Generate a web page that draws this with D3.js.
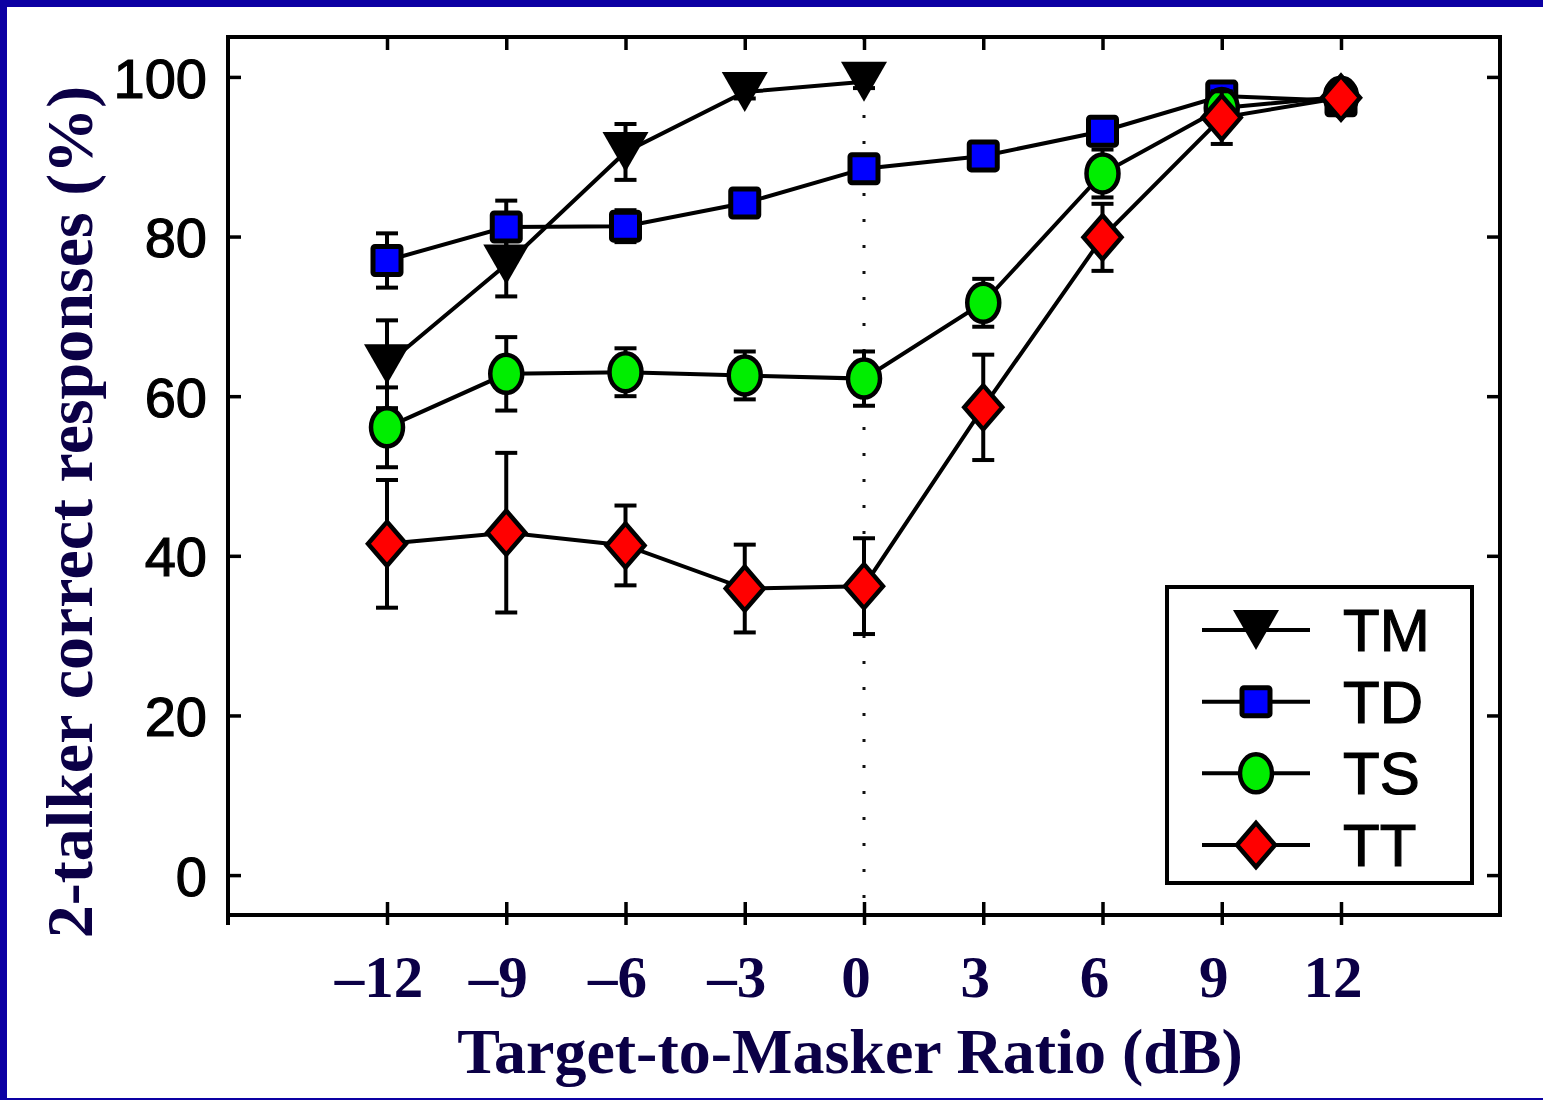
<!DOCTYPE html>
<html><head><meta charset="utf-8">
<script src="https://cdn.jsdelivr.net/npm/d3@7"></script>
<style>body{margin:0;background:#fff;overflow:hidden}</style></head>
<body>
<script>
// ---- data ----
const xTicks = [-12, -9, -6, -3, 0, 3, 6, 9, 12];
const xTickLabels = ["–12", "–9", "–6", "–3", "0", "3", "6", "9", "12"];
const yTicks = [0, 20, 40, 60, 80, 100];
const yTickLabels = ["0", "20", "40", "60", "80", "100"];

const tmX = [-12, -9, -6, -3, 0];
const tmY = [64, 76.5, 90.6, 98.1, 99.4];
const tmErr = [5.5, 4, 3.5, 0.8, 0.8];

const tdX = [-12, -9, -6, -3, 0, 3, 6, 9, 12];
const tdY = [77, 81.2, 81.3, 84.2, 88.5, 90.1, 93.2, 97.6, 97];
const tdErr = [3.4, 3.3, 2, 1, 1, 1, 1, 1, 1];

const tsX = [-12, -9, -6, -3, 0, 3, 6, 9, 12];
const tsY = [56.1, 62.8, 63, 62.6, 62.2, 71.7, 87.9, 96.1, 97.5];
const tsErr = [5, 4.6, 3, 3, 3.4, 3, 3, 2, 1];

const ttX = [-12, -9, -6, -3, 0, 3, 6, 9, 12];
const ttY = [41.5, 42.9, 41.3, 35.9, 36.2, 58.6, 79.9, 94.9, 97.4];
const ttErr = [8, 10, 5, 5.5, 6, 6.6, 4.2, 3.3, 1.5];

const seriesNames = ["TM", "TD", "TS", "TT"];

// ---- setup ----
const W = 1543, H = 1100;
const navy = "#0b0046", frameBlue = "#0c00a3";
const svg = d3.select("body").append("svg").attr("width", W).attr("height", H);
svg.append("rect").attr("width", W).attr("height", H).attr("fill", "#fff");

// slide frame
svg.append("rect").attr("x", 0).attr("y", 0).attr("width", W).attr("height", 7).attr("fill", frameBlue);
svg.append("rect").attr("x", 0).attr("y", 0).attr("width", 7).attr("height", H).attr("fill", frameBlue);
svg.append("rect").attr("x", 0).attr("y", H - 2).attr("width", W).attr("height", 2).attr("fill", frameBlue);

const x = d3.scaleLinear().domain([-16, 16]).range([228, 1500]);
const y = d3.scaleLinear().domain([-5, 105]).range([915, 37]);

// dotted zero line
svg.append("line").attr("x1", x(0)).attr("x2", x(0)).attr("y1", y(105)).attr("y2", y(-5))
  .attr("stroke", "#111").attr("stroke-width", 3).attr("stroke-dasharray", "3,23");

// axes
const axStyle = g => {
  g.select(".domain").remove();
  g.selectAll(".tick line").attr("stroke", "#000").attr("stroke-width", 3.5);
};
svg.append("g").attr("transform", `translate(${x(-16)},0)`)
  .call(d3.axisLeft(y).tickValues(yTicks).tickSize(-13).tickPadding(21)
    .tickFormat((d, i) => yTickLabels[i]))
  .call(axStyle)
  .call(g => g.selectAll("text").attr("font-family", "'Liberation Sans', Arial, sans-serif")
    .attr("font-size", 56).attr("fill", "#000").attr("stroke", "#000").attr("stroke-width", 1.2)
    .attr("dy", "0.36em"));
svg.append("g").attr("transform", `translate(${x(16)},0)`)
  .call(d3.axisRight(y).tickValues(yTicks).tickSize(-13).tickFormat(""))
  .call(axStyle);
svg.append("g").attr("transform", `translate(0,${y(105)})`)
  .call(d3.axisTop(x).tickValues(xTicks).tickSize(-13).tickFormat(""))
  .call(axStyle);
svg.append("g").attr("transform", `translate(0,${y(-5)})`)
  .call(d3.axisBottom(x).tickValues(xTicks).tickSizeInner(10).tickSizeOuter(0).tickFormat(""))
  .call(axStyle);
svg.append("g").attr("transform", `translate(0,${y(-5)})`)
  .call(d3.axisBottom(x).tickValues(xTicks).tickSizeInner(-13).tickSizeOuter(0).tickFormat(""))
  .call(axStyle);

// box
svg.append("rect").attr("x", x(-16)).attr("y", y(105)).attr("width", x(16) - x(-16)).attr("height", y(-5) - y(105))
  .attr("fill", "none").attr("stroke", "#000").attr("stroke-width", 4);
svg.append("line").attr("x1", x(-16)).attr("x2", x(-16)).attr("y1", y(-5)).attr("y2", y(-5) + 10)
  .attr("stroke", "#000").attr("stroke-width", 4);

// x tick labels (navy bold serif)
svg.append("g").selectAll("text").data(xTicks).join("text")
  .attr("x", d => x(d)).attr("dx", -8).attr("y", 997)
  .attr("text-anchor", "middle")
  .attr("font-family", "'Liberation Serif', 'Times New Roman', serif").attr("font-weight", "bold")
  .attr("font-size", 59).attr("fill", navy)
  .text((d, i) => xTickLabels[i]);

// axis titles
svg.append("text").attr("x", 850).attr("y", 1073).attr("text-anchor", "middle")
  .attr("font-family", "'Liberation Serif', 'Times New Roman', serif").attr("font-weight", "bold")
  .attr("font-size", 64).attr("fill", navy).text("Target-to-Masker Ratio (dB)");
svg.append("text").attr("transform", "translate(92,512) rotate(-90)").attr("text-anchor", "middle")
  .attr("font-family", "'Liberation Serif', 'Times New Roman', serif").attr("font-weight", "bold")
  .attr("font-size", 66).attr("fill", navy).text("2-talker correct responses (%)");

// markers
function drawMarker(g, type) {
  if (type === "TM") {
    g.append("path").attr("d", "M-23,-20 L23,-20 L0,20 Z").attr("fill", "#000");
  } else if (type === "TD") {
    g.append("rect").attr("x", -14).attr("y", -14).attr("width", 28).attr("height", 28).attr("rx", 2)
      .attr("fill", "#0000ff").attr("stroke", "#000").attr("stroke-width", 5);
  } else if (type === "TS") {
    g.append("ellipse").attr("rx", 16).attr("ry", 19)
      .attr("fill", "#00ee00").attr("stroke", "#000").attr("stroke-width", 4.5);
  } else {
    g.append("path").attr("d", "M0,-22 L19,0 L0,22 L-19,0 Z")
      .attr("fill", "#ff0000").attr("stroke", "#000").attr("stroke-width", 4.5).attr("stroke-linejoin", "miter");
  }
}

const series = [
  {name: "TM", xs: tmX, ys: tmY, es: tmErr},
  {name: "TD", xs: tdX, ys: tdY, es: tdErr},
  {name: "TS", xs: tsX, ys: tsY, es: tsErr},
  {name: "TT", xs: ttX, ys: ttY, es: ttErr}
];

const line = d3.line().x(d => x(d.x)).y(d => y(d.y));
series.forEach(s => {
  const pts = s.xs.map((v, i) => ({x: v, y: s.ys[i], e: s.es[i]}));
  const g = svg.append("g");
  // error bars
  const eb = g.append("g").attr("stroke", "#000").attr("stroke-width", 4);
  pts.forEach(p => {
    eb.append("line").attr("x1", x(p.x)).attr("x2", x(p.x)).attr("y1", y(p.y - p.e)).attr("y2", y(p.y + p.e));
    eb.append("line").attr("x1", x(p.x) - 11).attr("x2", x(p.x) + 11).attr("y1", y(p.y - p.e)).attr("y2", y(p.y - p.e));
    eb.append("line").attr("x1", x(p.x) - 11).attr("x2", x(p.x) + 11).attr("y1", y(p.y + p.e)).attr("y2", y(p.y + p.e));
  });
  g.append("path").datum(pts).attr("d", line).attr("fill", "none").attr("stroke", "#000").attr("stroke-width", 4);
  pts.forEach(p => {
    const m = g.append("g").attr("transform", `translate(${x(p.x)},${y(p.y)})`);
    drawMarker(m, s.name);
  });
});

// legend
const lg = svg.append("g");
lg.append("rect").attr("x", 1167).attr("y", 587).attr("width", 305).attr("height", 296)
  .attr("fill", "#fff").attr("stroke", "#000").attr("stroke-width", 4);
const legendY = d3.scalePoint().domain(seriesNames).range([630, 845]);
seriesNames.forEach(n => {
  const cy = legendY(n);
  lg.append("line").attr("x1", 1202).attr("x2", 1310).attr("y1", cy).attr("y2", cy)
    .attr("stroke", "#000").attr("stroke-width", 4);
  drawMarker(lg.append("g").attr("transform", `translate(1256,${cy})`), n);
  lg.append("text").attr("x", 1343).attr("y", cy + 21)
    .attr("font-family", "'Liberation Sans', Arial, sans-serif").attr("font-size", 60).attr("fill", "#000")
    .attr("stroke", "#000").attr("stroke-width", 1.2)
    .text(n);
});
</script>
</body></html>
